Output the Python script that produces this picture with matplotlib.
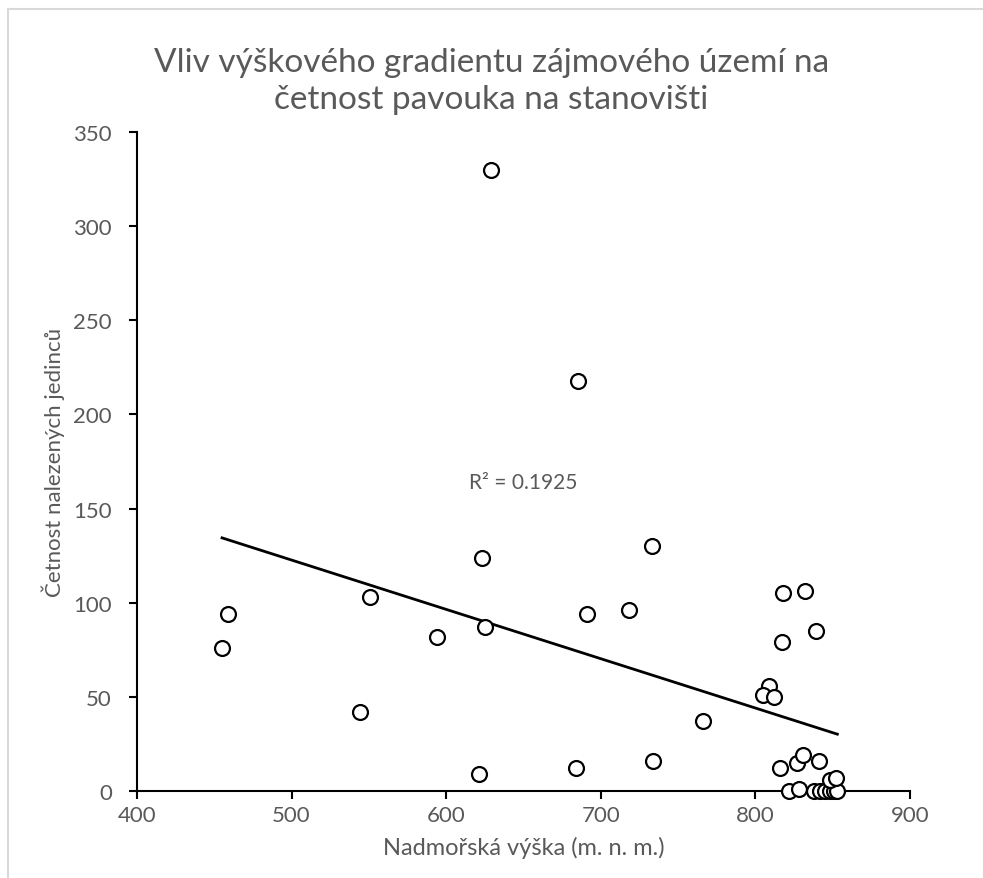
import numpy as np
import matplotlib.pyplot as plt
from matplotlib.lines import Line2D

# nadmořská výška (m n. m.) a četnost jedinců
vyska = [455, 459, 544, 551, 594, 621, 623, 625, 629, 684, 685, 691, 718, 733, 734, 766,
         818, 832, 839, 817, 809, 805, 812, 816, 827, 831, 841,
         822, 828, 838, 842, 845, 848, 851, 853, 848, 852]
cetnost = [76, 94, 42, 103, 82, 9, 124, 87, 330, 12, 218, 94, 96, 130, 16, 37,
           105, 106, 85, 79, 56, 51, 50, 12, 15, 19, 16,
           0, 1, 0, 0, 0, 0, 0, 0, 6, 7]
r2_text = 'R² = 0.1925'

x_ticks = [400, 500, 600, 700, 800, 900]
y_ticks = [0, 50, 100, 150, 200, 250, 300, 350]

seda = '#595959'
plt.rcParams['font.family'] = ['Lato', 'DejaVu Sans']

fig = plt.figure(figsize=(9.83, 8.79), dpi=100)
ax = fig.add_axes([137/983, 87/879, 773/983, 659/879])

x = np.array(vyska, dtype=float)
y = np.array(cetnost, dtype=float)

# lineární trend jako v Excelu
k, q = np.polyfit(x, y, 1)
xl = np.array([x.min(), x.max()])
ax.plot(xl, k * xl + q, color='black', lw=2, zorder=2)

ax.scatter(x, y, s=115, facecolor='white', edgecolor='black', linewidth=1.6, zorder=3, clip_on=False)

ax.text(650, 164, r2_text, ha='center', va='center', fontsize=15, color=seda)

ax.set_xlim(400, 900)
ax.set_ylim(0, 350)
ax.set_xticks(x_ticks)
ax.set_yticks(y_ticks)
for s in ['top', 'right']:
    ax.spines[s].set_visible(False)
for s in ['left', 'bottom']:
    ax.spines[s].set_linewidth(1.5)
ax.tick_params(axis='both', direction='out', length=6, width=1.5, labelsize=16, labelcolor=seda)
ax.tick_params(axis='x', pad=4)
ax.tick_params(axis='y', pad=12)

ax.set_xlabel('Nadmořská výška (m. n. m.)', fontsize=17, color=seda, labelpad=8)
ax.set_ylabel('Četnost nalezených jedinců', fontsize=16, color=seda, labelpad=6)

fig.text(0.5, 0.907, 'Vliv výškového gradientu zájmového území na\nčetnost pavouka na stanovišti',
         ha='center', va='center', fontsize=24, color=seda, linespacing=1.3)

# rámeček oblasti grafu
fig.add_artist(Line2D([8/983, 8/983], [0, 1 - 10/879], color='#d9d9d9', lw=1.5, transform=fig.transFigure))
fig.add_artist(Line2D([8/983, 1], [1 - 10/879, 1 - 10/879], color='#d9d9d9', lw=1.5, transform=fig.transFigure))

fig.savefig('out.png', dpi=100)
